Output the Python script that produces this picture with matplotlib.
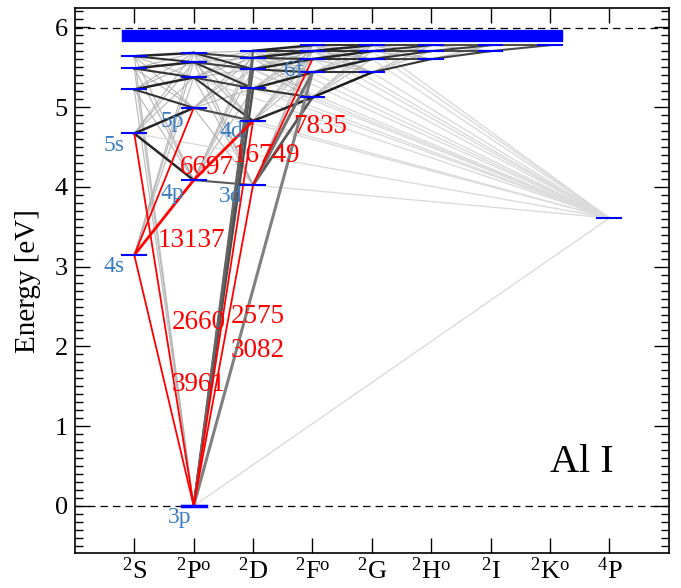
import matplotlib
matplotlib.use('Agg')
import matplotlib.pyplot as plt

plt.rcParams['font.family'] = 'serif'
plt.rcParams['font.serif'] = ['Liberation Serif', 'DejaVu Serif']
plt.rcParams['mathtext.fontset'] = 'custom'
plt.rcParams['mathtext.rm'] = 'Liberation Serif'
plt.rcParams['mathtext.it'] = 'Liberation Serif:italic'

# term columns
terms = ['S', 'P', 'D', 'F', 'G', 'H', 'I', 'K', 'Q']
term_labels = [r'$^2$S', r'$^2$P$^{\rm o}$', r'$^2$D', r'$^2$F$^{\rm o}$', r'$^2$G',
               r'$^2$H$^{\rm o}$', r'$^2$I', r'$^2$K$^{\rm o}$', r'$^4$P']

# level energies in eV
lev_S = [3.145, 4.670, 5.222, 5.485, 5.639]
lev_P = [0.0, 4.085, 4.990, 5.372, 5.564, 5.680]
lev_D = [4.023, 4.828, 5.234, 5.476, 5.618, 5.705]
lev_F = [5.122, 5.435, 5.602, 5.702, 5.777]
lev_G = [5.435, 5.602, 5.702, 5.777]
lev_H = [5.602, 5.702, 5.777]
lev_I = [5.702, 5.777]
lev_K = [5.777]
lev_Q = [3.610]   # 4P
levels = {'S': lev_S, 'P': lev_P, 'D': lev_D, 'F': lev_F, 'G': lev_G,
          'H': lev_H, 'I': lev_I, 'K': lev_K, 'Q': lev_Q}

# dense band of high levels just under the limit
band = [5.826, 5.838, 5.850, 5.860, 5.870, 5.878, 5.886, 5.894, 5.902,
        5.910, 5.918, 5.926, 5.934, 5.942, 5.950, 5.958, 5.966]
ion_limit = 5.986

level_names = [('S', 0, '4s'), ('S', 1, '5s'), ('P', 0, '3p'), ('P', 1, '4p'),
               ('P', 2, '5p'), ('D', 0, '3d'), ('D', 1, '4d'), ('F', 2, '6f')]
name_pos = [(-0.345, 3.00), (-0.345, 4.52), (0.76, -0.14), (0.64, 3.92),
            (0.64, 4.82), (1.63, 3.876), (1.63, 4.69), (2.68, 5.46)]

# red labelled lines: (term a, idx a, term b, idx b, wavelength, lw)
red_lines = [('S', 0, 'P', 0, '3961', 1.3), ('S', 1, 'P', 0, '2660', 1.3),
             ('D', 0, 'P', 0, '3082', 1.3), ('D', 1, 'P', 0, '2575', 1.3),
             ('S', 0, 'P', 1, '13137', 2.0), ('S', 0, 'P', 2, '6697', 1.3),
             ('P', 1, 'D', 1, '16749', 2.0), ('D', 0, 'F', 2, '7835', 1.3)]
red_text = [(0.63, 1.52), (0.63, 2.30), (1.63, 1.955), (1.63, 2.37),
            (0.39, 3.33), (0.76, 4.24), (1.66, 4.39), (2.67, 4.76)]

# strong grey lines: (term a, idx a, term b, idx b, grey, lw)
strong = [
    ('S', 1, 'P', 1, 0.15, 1.8), ('S', 1, 'P', 2, 0.15, 1.8),
    ('S', 2, 'P', 2, 0.2, 1.5), ('S', 2, 'P', 3, 0.15, 1.8),
    ('S', 3, 'P', 3, 0.2, 1.5), ('S', 3, 'P', 4, 0.15, 1.8),
    ('S', 4, 'P', 4, 0.2, 1.5), ('S', 4, 'P', 5, 0.15, 1.8),
    ('P', 1, 'D', 0, 0.35, 1.5), ('P', 2, 'D', 1, 0.3, 1.5),
    ('P', 3, 'D', 1, 0.2, 1.5), ('P', 3, 'D', 2, 0.25, 1.5),
    ('P', 4, 'D', 2, 0.2, 1.5), ('P', 4, 'D', 3, 0.25, 1.5),
    ('P', 5, 'D', 3, 0.2, 1.5), ('P', 5, 'D', 4, 0.25, 1.5),
    ('D', 0, 'F', 0, 0.35, 2.0), ('D', 1, 'F', 0, 0.15, 1.8),
    ('D', 2, 'F', 0, 0.2, 1.5), ('D', 2, 'F', 1, 0.15, 1.8),
    ('D', 3, 'F', 1, 0.2, 1.5), ('D', 3, 'F', 2, 0.15, 1.8),
    ('D', 4, 'F', 2, 0.2, 1.5), ('D', 4, 'F', 3, 0.15, 1.8),
    ('D', 5, 'F', 3, 0.2, 1.5), ('D', 5, 'F', 4, 0.15, 1.8),
    ('F', 0, 'G', 0, 0.1, 1.8), ('F', 1, 'G', 0, 0.2, 1.5),
    ('F', 1, 'G', 1, 0.15, 1.8), ('F', 2, 'G', 1, 0.2, 1.5),
    ('F', 2, 'G', 2, 0.15, 1.8), ('F', 3, 'G', 2, 0.2, 1.5),
    ('F', 3, 'G', 3, 0.15, 1.8), ('F', 4, 'G', 3, 0.2, 1.5),
    ('G', 0, 'H', 0, 0.2, 1.5), ('G', 1, 'H', 0, 0.25, 1.5),
    ('G', 1, 'H', 1, 0.2, 1.5), ('G', 2, 'H', 1, 0.25, 1.5),
    ('G', 2, 'H', 2, 0.2, 1.5), ('G', 3, 'H', 2, 0.25, 1.5),
    ('H', 0, 'I', 0, 0.25, 1.5), ('H', 1, 'I', 0, 0.3, 1.5),
    ('H', 1, 'I', 1, 0.25, 1.5), ('H', 2, 'I', 1, 0.3, 1.5),
    ('I', 0, 'K', 0, 0.3, 1.5), ('I', 1, 'K', 0, 0.3, 1.5),
    ('P', 0, 'D', 2, 0.3, 1.8), ('P', 0, 'D', 3, 0.35, 1.6),
    ('P', 0, 'D', 4, 0.4, 1.5), ('P', 0, 'D', 5, 0.4, 1.5),
    ('P', 0, 'F', 1, 0.5, 2.2), ('D', 0, 'F', 1, 0.45, 2.2),
]

# weak lines to the quartet level
quartet = [('P', 0), ('D', 0), ('D', 1), ('D', 2), ('D', 3), ('D', 4), ('D', 5),
           ('P', 2), ('P', 3), ('P', 4), ('P', 5), ('F', 0), ('F', 1), ('F', 2),
           ('F', 3), ('F', 4), ('G', 0), ('G', 1), ('G', 2), ('G', 3), ('S', 1)]

neighbours = [('S', 'P'), ('P', 'D'), ('D', 'F'), ('F', 'G'), ('G', 'H'), ('H', 'I'), ('I', 'K')]


def pos(t, i):
    return terms.index(t), levels[t][i]


fig = plt.figure(figsize=(6.81, 5.88), dpi=100)
ax = fig.add_axes([0.110, 0.0595, 0.872, 0.9265])

# background mesh of all allowed pairs
done = set((a, i, b, j) for a, i, b, j, *_ in strong + red_lines)
for a, b in neighbours:
    for i in range(len(levels[a])):
        for j in range(len(levels[b])):
            if (a, i, b, j) in done or (b, j, a, i) in done:
                continue
            xa, ya = pos(a, i)
            xb, yb = pos(b, j)
            ax.plot([xa, xb], [ya, yb], color='0.68', lw=0.9, alpha=0.8, zorder=1)

for t, i in quartet:
    xa, ya = pos(t, i)
    xb, yb = pos('Q', 0)
    ax.plot([xa, xb], [ya, yb], color='0.86', lw=1.0, zorder=1)

for a, i, b, j, g, lw in strong:
    xa, ya = pos(a, i)
    xb, yb = pos(b, j)
    ax.plot([xa, xb], [ya, yb], color=str(g), lw=lw, zorder=2)

for (a, i, b, j, wl, lw), (tx, ty) in zip(red_lines, red_text):
    xa, ya = pos(a, i)
    xb, yb = pos(b, j)
    ax.plot([xa, xb], [ya, yb], color='red', lw=lw, zorder=3)
    ax.text(tx, ty, wl, color='red', fontsize=19.5, ha='left', va='center', zorder=5)

# levels
for k, t in enumerate(terms):
    for e in levels[t]:
        ax.plot([k - 0.2, k + 0.2], [e, e], color='blue', lw=1.5, zorder=4)
ax.plot([0.8, 1.2], [0.0, 0.0], color='blue', lw=2.5, zorder=4)
for e in band:
    ax.plot([-0.2, 7.2], [e, e], color='blue', lw=0.9, zorder=4)

for (t, i, nm), (tx, ty) in zip(level_names, name_pos):
    ax.text(tx, ty, nm, color='#3a7dc0', fontsize=17, ha='center', va='center', zorder=5)

ax.axhline(0, color='k', ls=(0, (6, 4)), lw=0.9, zorder=0)
ax.axhline(ion_limit, color='k', ls=(0, (6, 4)), lw=0.9, zorder=0)

ax.text(7.0, 0.43, 'Al I', fontsize=29, ha='left', va='baseline')

ax.set_xlim(-1, 9)
ax.set_ylim(-0.59, 6.24)
ax.set_xticks(range(len(terms)))
ax.set_xticklabels(term_labels, fontsize=19)
ax.set_yticks([0, 1, 2, 3, 4, 5, 6])
ax.set_yticks([v / 10 for v in range(-5, 63)], minor=True)
ax.tick_params(axis='y', labelsize=19, pad=5)
ax.tick_params(which='major', direction='in', top=True, right=True, length=11, width=1)
ax.tick_params(which='minor', direction='in', right=True, length=6, width=1)
ax.tick_params(axis='x', which='minor', bottom=False, top=False)
ax.set_ylabel('Energy [eV]', fontsize=21, labelpad=10)
for s in ax.spines.values():
    s.set_linewidth(1.2)

fig.savefig('out.png', dpi=100)
